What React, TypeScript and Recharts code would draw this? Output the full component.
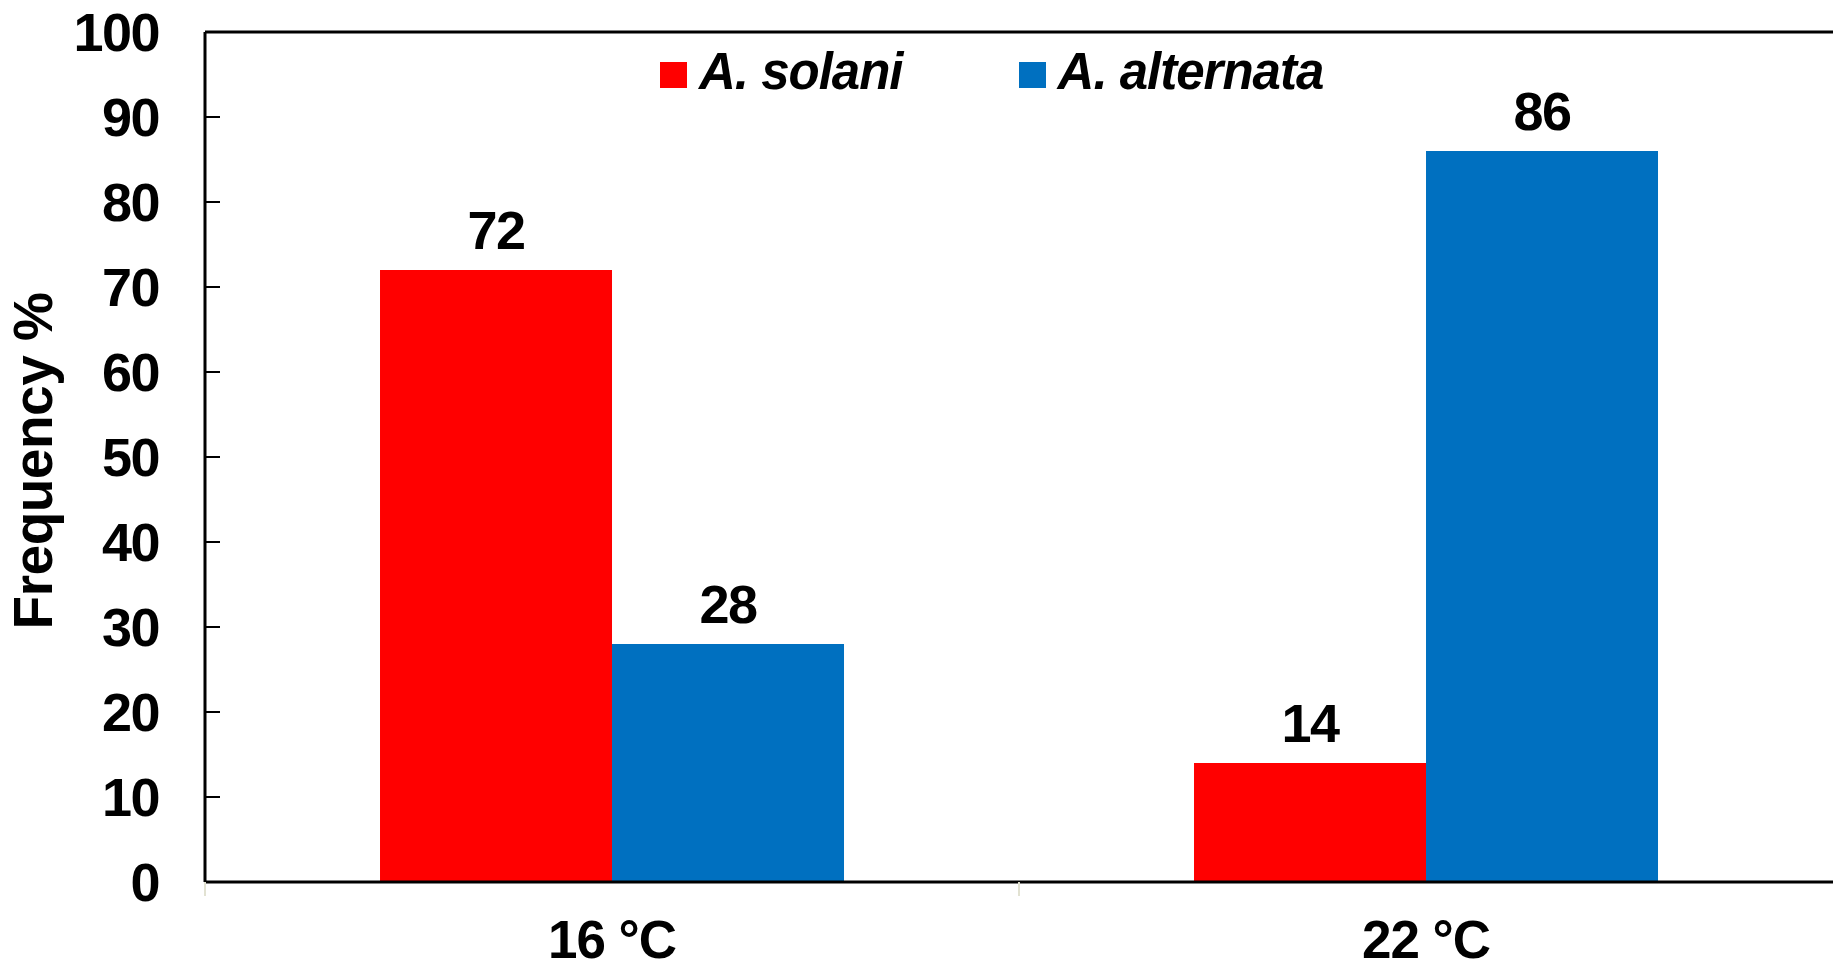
import { Bar, BarChart, LabelList, ReferenceLine, XAxis, YAxis } from "recharts";

const temperatures = ["16 °C", "22 °C"];
const solani = [72, 14];
const alternata = [28, 86];
const yTicks = [0, 10, 20, 30, 40, 50, 60, 70, 80, 90, 100];

const RED = "#FF0000";
const BLUE = "#0070C0";
const FONT = "'Liberation Sans', Arial, sans-serif";

const series = [
  { key: "solani", name: "A. solani", color: RED },
  { key: "alternata", name: "A. alternata", color: BLUE },
];

const data = temperatures.map((t, i) => ({
  temp: t,
  solani: solani[i],
  alternata: alternata[i],
}));

function YTick(props: any) {
  const { x, y, payload } = props;
  const v = payload.value;
  return (
    <g>
      {v > 0 && v < 100 && <line x1={x} x2={x + 15} y1={y} y2={y} stroke="#000" strokeWidth={2} />}
      <text
        x={x - 46}
        y={y}
        dy="0.36em"
        textAnchor="end"
        fontFamily={FONT}
        fontWeight="bold"
        fontSize={54}
        letterSpacing={-1.5}
        fill="#000"
      >
        {v}
      </text>
    </g>
  );
}

function XTick(props: any) {
  const { x, y, payload } = props;
  const left = x - (payload.offset ?? 0);
  return (
    <g>
      <line x1={left} x2={left} y1={y} y2={y + 14} stroke="#e2e2d2" strokeWidth={2} />
      <text
        x={x}
        y={y}
        dy={76}
        textAnchor="middle"
        fontFamily={FONT}
        fontWeight="bold"
        fontSize={53}
        letterSpacing={-1}
        fill="#000"
      >
        {payload.value}
      </text>
    </g>
  );
}

// legend sits over the plot, so it is kept outside the chart layout
function SeriesLegend() {
  return (
    <div
      style={{
        position: "absolute",
        top: 44,
        left: 660,
        display: "flex",
        gap: 116,
        fontFamily: FONT,
      }}
    >
      {series.map((s) => (
        <div key={s.key} style={{ display: "flex", alignItems: "center" }}>
          <span style={{ width: 27, height: 26, background: s.color, display: "inline-block", marginRight: 12, marginTop: 6 }} />
          <span style={{ fontSize: 51, fontWeight: "bold", fontStyle: "italic", letterSpacing: -1, lineHeight: "56px" }}>
            {s.name}
          </span>
        </div>
      ))}
    </div>
  );
}

function YLabel(props: any) {
  const { viewBox } = props;
  const cy = viewBox.y + viewBox.height / 2 + 4;
  return (
    <text
      x={52}
      y={cy}
      transform={`rotate(-90, 52, ${cy})`}
      textAnchor="middle"
      fontFamily={FONT}
      fontWeight="bold"
      fontSize={55}
      letterSpacing={-0.5}
      fill="#000"
    >
      Frequency %
    </text>
  );
}

export default function App() {
  return (
    <div style={{ position: "absolute", left: 0, top: 0, width: 1833, height: 969, background: "#fff" }}>
      <BarChart
        width={1833}
        height={969}
        data={data}
        margin={{ top: 32, right: 0, bottom: 0, left: 0 }}
        barCategoryGap="21.5%"
        barGap={0}
      >
        <XAxis
          dataKey="temp"
          height={87}
          axisLine={{ stroke: "#000", strokeWidth: 3 }}
          tickLine={false}
          tickSize={0}
          tickMargin={0}
          tick={<XTick />}
          interval={0}
        />
        <YAxis
          width={205}
          domain={[0, 100]}
          ticks={yTicks}
          interval={0}
          axisLine={{ stroke: "#000", strokeWidth: 3 }}
          tickLine={false}
          tickSize={0}
          tickMargin={0}
          tick={<YTick />}
          label={<YLabel />}
        />
        <ReferenceLine y={100} stroke="#000" strokeWidth={3} />
        {series.map((s) => (
          <Bar key={s.key} dataKey={s.key} name={s.name} fill={s.color} isAnimationActive={false}>
            <LabelList
              dataKey={s.key}
              position="top"
              offset={21}
              fill="#000"
              fontFamily={FONT}
              fontWeight="bold"
              fontSize={54}
              letterSpacing={-1.5}
            />
          </Bar>
        ))}
      </BarChart>
      <SeriesLegend />
    </div>
  );
}
